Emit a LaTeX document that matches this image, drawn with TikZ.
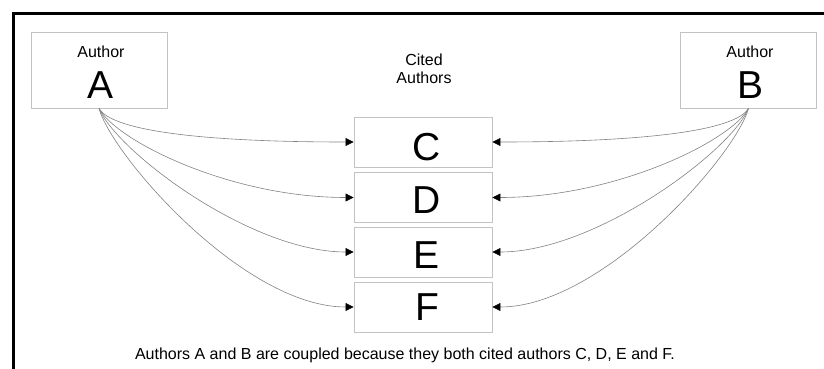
\documentclass[tikz,border=0pt]{standalone}
\usepackage{fontspec}
\setmainfont{Liberation Sans}
\usetikzlibrary{arrows.meta}
\definecolor{boxgray}{RGB}{195,195,195}
\definecolor{linegray}{RGB}{130,130,130}
\begin{document}
\begin{tikzpicture}[x=1pt,y=-1pt,
  authorbox/.style={draw=boxgray,line width=0.9pt,minimum width=136pt,minimum height=76pt,inner sep=0pt},
  citedbox/.style={draw=boxgray,line width=0.9pt,minimum width=138pt,minimum height=50pt,inner sep=0pt},
  smalltext/.style={font=\fontsize{16}{18}\selectfont,inner sep=0pt,anchor=base},
  bigletter/.style={font=\fontsize{39}{40}\selectfont,inner sep=0pt,anchor=base},
  citelink/.style={draw=linegray,line width=0.6pt,-{Triangle[length=8pt,width=8pt,color=black]}}]
\useasboundingbox (0,0) rectangle (824,369);
% outer frame
\draw[line width=3pt] (13.5,380) -- (13.5,13.5) -- (830,13.5);
% boxes
\node[authorbox] (A) at (99,70) {};
\node[authorbox] (B) at (748.5,70) {};
\node[citedbox] (C) at (423,142) {};
\node[citedbox] (D) at (423,197.5) {};
\node[citedbox] (E) at (423,252) {};
\node[citedbox] (F) at (423,307) {};
% texts
\node[smalltext] (authA) at (101,57) {Author};
\node[bigletter] (letA) at (101,98) {A};
\node[smalltext] (authB) at (750,57) {Author};
\node[bigletter] (letB) at (750,98) {B};
\node[smalltext] (cited1) at (424,66) {Cited};
\node[smalltext] (cited2) at (424,84) {Authors};
\node[bigletter] (letC) at (427,160) {C};
\node[bigletter] (letD) at (427,213) {D};
\node[bigletter] (letE) at (427,268) {E};
\node[bigletter] (letF) at (427,320) {F};
\node[smalltext] (caption) at (405,359) {Authors A and B are coupled because they both cited authors C, D, E and F.};
% links from A
\draw[citelink] (A.south) .. controls +(13,22) and +(-154,0) .. (C.west);
\draw[citelink] (A.south) .. controls +(17,32) and +(-124,0) .. (D.west);
\draw[citelink] (A.south) .. controls +(17,42) and +(-104,0) .. (E.west);
\draw[citelink] (A.south) .. controls +(13,47) and +(-110,0) .. (F.west);
% links from B
\draw[citelink] (B.south) .. controls +(-13,22) and +(154,0) .. (C.east);
\draw[citelink] (B.south) .. controls +(-17,32) and +(124,0) .. (D.east);
\draw[citelink] (B.south) .. controls +(-17,42) and +(104,0) .. (E.east);
\draw[citelink] (B.south) .. controls +(-13,47) and +(110,0) .. (F.east);
\end{tikzpicture}
\end{document}
